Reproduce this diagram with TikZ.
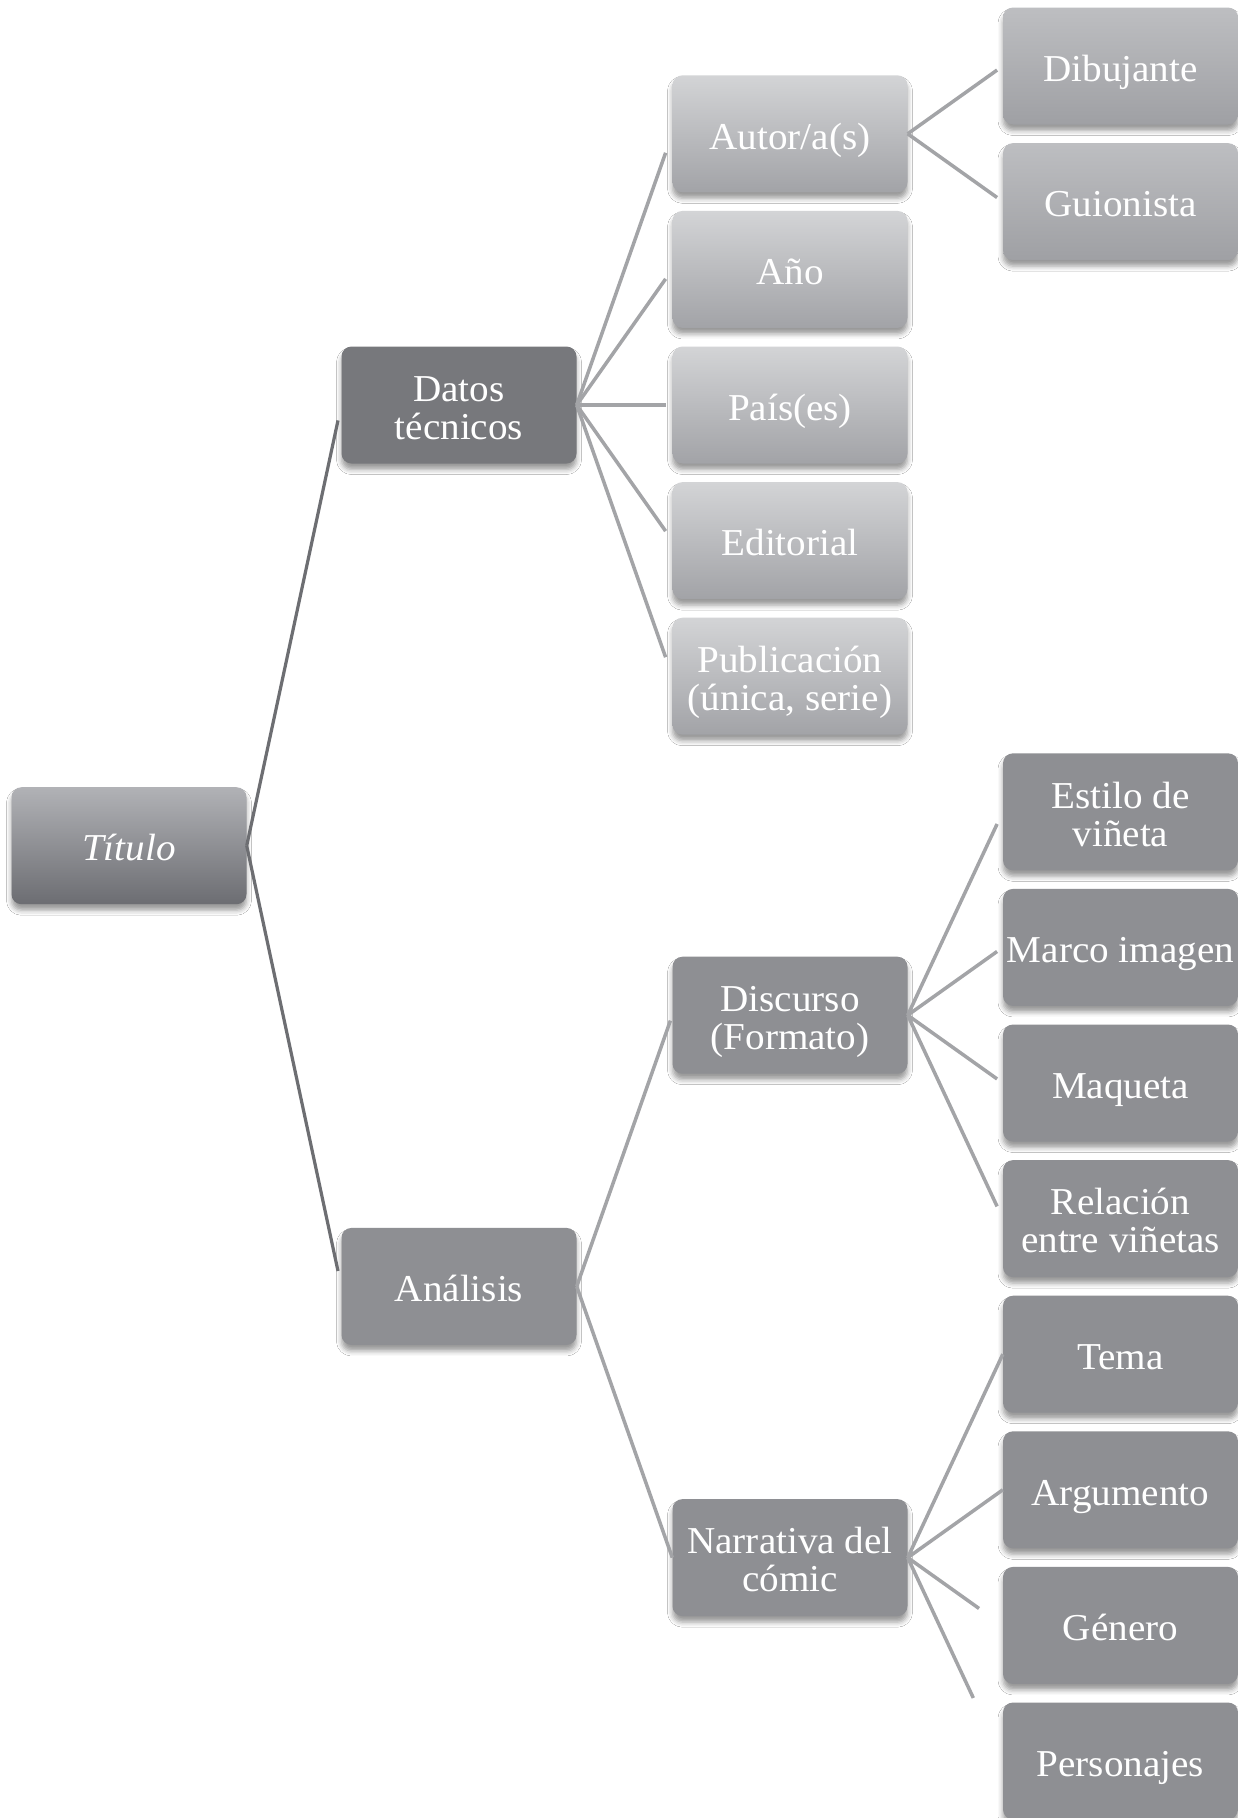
\documentclass[tikz,border=0pt]{standalone}
\usepackage{fontspec}
\setmainfont{Liberation Serif}[FakeStretch=1.03]
\usetikzlibrary{calc,shadows.blur}

\definecolor{rootTop}{HTML}{B1B2B6}
\definecolor{rootBot}{HTML}{6C6D72}
\definecolor{darkfill}{HTML}{77787C}
\definecolor{midfill}{HTML}{8E8F93}
\definecolor{lightTop}{HTML}{D3D4D6}
\definecolor{lightBot}{HTML}{A2A3A7}
\definecolor{leafTop}{HTML}{BDBEC1}
\definecolor{leafBot}{HTML}{9FA0A4}
\definecolor{rootline}{HTML}{6D6E72}
\definecolor{branchline}{HTML}{A3A4A7}

% strut for the first line of a label, so that one- and two-line labels sit alike
\newcommand{\firstline}{\rule{0pt}{40pt}}

\tikzset{
  box/.style={rectangle, rounded corners=10pt, minimum width=235pt,
    minimum height=117pt, inner sep=0pt, align=center, text=white,
    font=\fontsize{38}{38}\selectfont,
    execute at begin node={\firstline},
    execute at end node={\rule[-9.5pt]{0pt}{0pt}},
    blur shadow={shadow xshift=0pt, shadow yshift=-6pt,
      shadow blur radius=5pt, shadow opacity=40}},
  rootbox/.style={box, top color=rootTop, bottom color=rootBot},
  darkbox/.style={box, fill=darkfill},
  midbox/.style={box, fill=midfill},
  lightbox/.style={box, top color=lightTop, bottom color=lightBot},
  leafbox/.style={box, top color=leafTop, bottom color=leafBot},
  rootconn/.style={draw=rootline, line width=3.2pt},
  conn/.style={draw=branchline, line width=3.5pt}
}

\begin{document}
\begin{tikzpicture}[x=1pt,y=-1pt]
\useasboundingbox (0,0) rectangle (1238,1818);
\fill[white] (0,0) rectangle (1238,1818);

% root
\node[rootbox] (titulo) at (129,845.7) {\itshape Título};

% first level
\node[darkbox] (datos) at (459,405) {\firstline Datos\\técnicos};
\node[midbox] (analisis) at (459,1286.4) {Análisis};

% technical data
\node[lightbox] (autor) at (790,133.8) {Autor/a(s)};
\node[lightbox] (anio) at (790,269.4) {Año};
\node[lightbox] (pais) at (790,405) {País(es)};
\node[lightbox] (editorial) at (790,540.6) {Editorial};
\node[lightbox] (publicacion) at (790,676.2) {\firstline Publicación\\(única, serie)};

\node[leafbox] (dibujante) at (1120.5,66) {Dibujante};
\node[leafbox] (guionista) at (1120.5,201.6) {Guionista};

% analysis
\node[midbox] (discurso) at (790,1015.2) {\firstline Discurso\\(Formato)};
\node[midbox] (narrativa) at (790,1557.6) {\firstline Narrativa del\\cómic};

\node[midbox] (estilo) at (1120.5,811.8) {\firstline Estilo de\\viñeta};
\node[midbox] (marco) at (1120.5,947.4) {Marco imagen};
\node[midbox] (maqueta) at (1120.5,1083) {Maqueta};
\node[midbox] (relacion) at (1120.5,1218.6) {\firstline Relación\\entre viñetas};

\node[midbox] (tema) at (1120.5,1354.2) {Tema};
\node[midbox] (argumento) at (1120.5,1489.8) {Argumento};
\node[midbox] (genero) at (1120.5,1625.4) {Género};
\node[midbox] (personajes) at (1120.5,1761) {Personajes};

% connectors
\draw[rootconn] (titulo.east) -- ($(titulo.east)!0.965!(datos.west)$);
\draw[rootconn] (titulo.east) -- ($(titulo.east)!0.965!(analisis.west)$);

\foreach \c in {autor,anio,pais,editorial,publicacion}
  \draw[conn] (datos.east) -- ($(datos.east)!0.93!(\c.west)$);

\foreach \c in {dibujante,guionista}
  \draw[conn] (autor.east) -- ($(autor.east)!0.94!(\c.west)$);

\draw[conn] (analisis.east) -- ($(analisis.east)!0.98!(discurso.west)$);
\draw[conn] (analisis.east) -- ($(analisis.east)!1!(narrativa.west)$);

\foreach \c in {estilo,marco,maqueta,relacion}
  \draw[conn] (discurso.east) -- ($(discurso.east)!0.94!(\c.west)$);

\draw[conn] (narrativa.east) -- (tema.west);
\draw[conn] (narrativa.east) -- (argumento.west);
\draw[conn] (narrativa.east) -- ($(narrativa.east)!0.75!(genero.west)$);
\draw[conn] (narrativa.east) -- ($(narrativa.east)!0.69!(personajes.west)$);
\end{tikzpicture}
\end{document}
